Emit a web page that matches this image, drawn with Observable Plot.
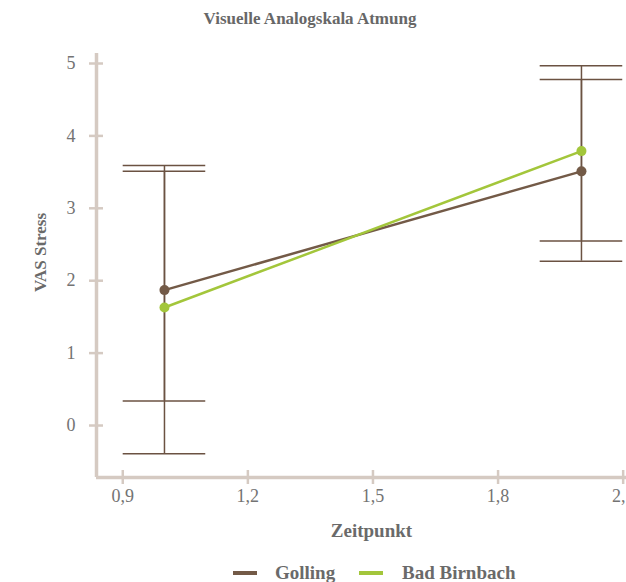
<!DOCTYPE html>
<html>
<head>
<meta charset="utf-8">
<script src="https://cdn.jsdelivr.net/npm/d3@7"></script>
<script src="https://cdn.jsdelivr.net/npm/@observablehq/plot@0.6"></script>
<style>
  html, body { margin: 0; padding: 0; background: #fff; }
  #wrap { position: relative; width: 626px; height: 582px; overflow: hidden; font-family: "Liberation Serif", "DejaVu Serif", serif; }
  #title { position: absolute; top: 9px; left: 0; width: 620px; text-align: center; font-size: 17px; font-weight: bold; color: #676767; line-height: 20px; }
  #chart { position: absolute; top: 40px; left: 0; }
  .leg { position: absolute; top: 563px; font-size: 19px; font-weight: bold; color: #6a6a6a; line-height: 20px; white-space: nowrap; }
  .sw { position: absolute; top: 571px; width: 24px; height: 4px; }
</style>
</head>
<body>
<div id="wrap">
  <div id="title">Visuelle Analogskala Atmung</div>
  <div id="chart"></div>
</div>
<script>
// ---- data ----
const seriesNames = ["Golling", "Bad Birnbach"];
const seriesColors = ["#735a47", "#a3c63b"];
const timepoints = [1, 2];
const gollingMean = [1.87, 3.51];
const gollingLow  = [0.34, 2.27];
const gollingHigh = [3.51, 4.78];
const birnbachMean = [1.63, 3.79];
const birnbachLow  = [-0.39, 2.55];
const birnbachHigh = [3.59, 4.97];
const xTicks = [0.9, 1.2, 1.5, 1.8, 2.1];
const yTicks = [0, 1, 2, 3, 4, 5];
const xDomain = [0.837, 2.108];
const yDomain = [-0.718, 5.138];

// ---- build table ----
const rows = [];
timepoints.forEach((t, i) => {
  rows.push({series: "Golling", x: t, y: gollingMean[i], lo: gollingLow[i], hi: gollingHigh[i]});
  rows.push({series: "Bad Birnbach", x: t, y: birnbachMean[i], lo: birnbachLow[i], hi: birnbachHigh[i]});
});

const axisColor = "#d5cac2";
const textColor = "#737373";
const barColor = "#6b5242";
const capHalf = 0.099;
const fmt = d => d.toFixed(1).replace(".", ",");

const chart = Plot.plot({
  width: 626,
  height: 510,
  marginLeft: 96,
  marginRight: 0,
  marginTop: 13,
  marginBottom: 73,
  style: {fontFamily: "'Liberation Serif', 'DejaVu Serif', serif", fontSize: "18px", color: textColor, background: "transparent", overflow: "visible"},
  x: {domain: xDomain},
  y: {domain: yDomain},
  color: {domain: seriesNames, range: seriesColors},
  marks: [
    // axis lines
    Plot.ruleX([xDomain[0]], {stroke: axisColor, strokeWidth: 3.5}),
    Plot.ruleY([yDomain[0]], {stroke: axisColor, strokeWidth: 3.5}),
    // crossing tick marks
    Plot.axisX({ticks: xTicks, tickSize: 14, dy: -7, tickFormat: () => "", stroke: axisColor, strokeWidth: 2.5, label: null}),
    Plot.axisY({ticks: yTicks, tickSize: 14, dx: 7, tickFormat: () => "", stroke: axisColor, strokeWidth: 2.5, label: null}),
    // tick labels
    Plot.axisX({ticks: xTicks, tickSize: 0, tickPadding: 12, tickFormat: fmt, fill: textColor, fontSize: 18, label: null}),
    Plot.axisY({ticks: yTicks, tickSize: 0, tickPadding: 21, tickFormat: d => String(d), fill: textColor, fontSize: 18, label: null}),
    // axis titles
    Plot.text(["Zeitpunkt"], {frameAnchor: "bottom", dy: 53, dx: 10, lineAnchor: "middle", fontWeight: "bold", fontSize: 19, fill: "#6a6a6a"}),
    Plot.text(["VAS Stress"], {frameAnchor: "left", dx: -56, dy: -13, rotate: -90, textAnchor: "middle", lineAnchor: "middle", fontWeight: "bold", fontSize: 17, fill: "#6a6a6a"}),
    // error bars
    Plot.ruleX(rows, {x: "x", y1: "lo", y2: "hi", stroke: barColor, strokeWidth: 1.5}),
    Plot.ruleY(rows, {y: "hi", x1: d => d.x - capHalf, x2: d => d.x + capHalf, stroke: barColor, strokeWidth: 1.5}),
    Plot.ruleY(rows, {y: "lo", x1: d => d.x - capHalf, x2: d => d.x + capHalf, stroke: barColor, strokeWidth: 1.5}),
    // series lines and dots
    Plot.line(rows, {x: "x", y: "y", z: "series", stroke: "series", strokeWidth: 2.5}),
    Plot.dot(rows, {x: "x", y: "y", fill: "series", r: 5})
  ]
});
document.getElementById("chart").appendChild(chart);

// legend
const wrap = document.getElementById("wrap");
const legendPos = [{sw: 233, tx: 275}, {sw: 359, tx: 402}];
seriesNames.forEach((name, i) => {
  const s = document.createElement("div");
  s.className = "sw";
  s.style.left = legendPos[i].sw + "px";
  s.style.background = seriesColors[i];
  wrap.appendChild(s);
  const t = document.createElement("div");
  t.className = "leg";
  t.style.left = legendPos[i].tx + "px";
  t.textContent = name;
  wrap.appendChild(t);
});
</script>
</body>
</html>
